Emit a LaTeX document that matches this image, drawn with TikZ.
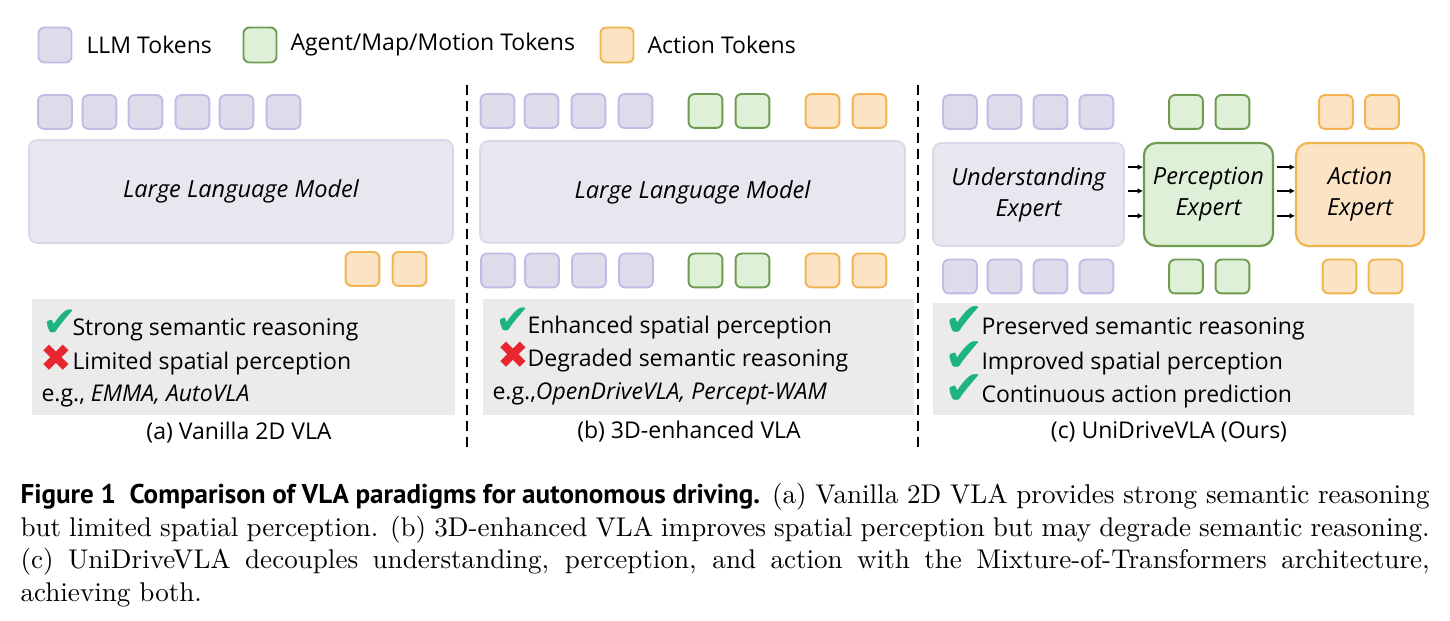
\documentclass[tikz,border=0pt]{standalone}
\usepackage{fontspec}
\newfontfamily\diafont{Open Sans}
\newfontfamily\symfont{DejaVu Sans}
\newfontfamily\capfont{PT Sans}
\usetikzlibrary{arrows.meta, positioning}

\definecolor{llmfill}{HTML}{DEDCEA}
\definecolor{llmdraw}{HTML}{C7B8E6}
\definecolor{agfill}{HTML}{DFF0D8}
\definecolor{agdraw}{HTML}{6E9B50}
\definecolor{actfill}{HTML}{FBE3C4}
\definecolor{actdraw}{HTML}{F0B450}
\definecolor{modelfill}{HTML}{E8E7F0}
\definecolor{modeldraw}{HTML}{DAD8E8}
\definecolor{infofill}{HTML}{EBEBEB}
\definecolor{okgreen}{HTML}{1DB383}
\definecolor{nored}{HTML}{E8262F}

\begin{document}
\begin{tikzpicture}[
  x=0.369pt, y=-0.369pt,
  every node/.style={font=\diafont\fontsize{8.5}{10}\selectfont},
  >=Latex,
  %% token squares
  tok/.style={draw, rounded corners=2.2pt, line width=0.7pt,
    minimum width=12.5pt, minimum height=12.5pt, inner sep=0pt},
  llmtok/.style={tok, draw=llmdraw, fill=llmfill},
  agtok/.style={tok, draw=agdraw, fill=agfill},
  acttok/.style={tok, draw=actdraw, fill=actfill},
  legtok/.style={minimum width=12.2pt, minimum height=12.9pt},
  %% model / expert blocks
  model/.style={draw=modeldraw, fill=modelfill, line width=0.6pt,
    rounded corners=3pt, inner sep=0pt, align=center,
    font=\diafont\itshape\fontsize{8.7}{11.4}\selectfont},
  expert/.style={model, line width=0.8pt, rounded corners=4.5pt,
    minimum height=38pt},
  %% text panels
  infobox/.style={fill=infofill, inner sep=0pt},
  item/.style={anchor=base west, inner sep=0pt},
  ok/.style={item, text=okgreen, font=\symfont\fontsize{15.5}{16}\selectfont},
  okbig/.style={ok, font=\symfont\fontsize{17.5}{18}\selectfont},
  no/.style={item, text=nored, font=\symfont\fontsize{14}{15}\selectfont},
  sublabel/.style={anchor=base, inner sep=0pt},
  sep/.style={line width=1.1pt, dash pattern=on 3.7pt off 2.2pt},
  arr/.style={-{Latex[length=2pt, width=2.2pt]}, line width=0.5pt,
    shorten <=1pt},
]
\useasboundingbox (0,0) rectangle (1450,621);

%% =========================================================
%% LEGEND
%% =========================================================
\node[llmtok, legtok] (leg-llm) at (55,45) {};
\node[anchor=west, inner sep=0pt] (leg-llm-t) at (86,45) {LLM Tokens};
\node[agtok, legtok] (leg-ag) at (260,45) {};
\node[anchor=west, inner sep=0pt] (leg-ag-t) at (290,45) {Agent/Map/Motion Tokens};
\node[acttok, legtok] (leg-act) at (617,45) {};
\node[anchor=west, inner sep=0pt] (leg-act-t) at (647,45) {Action Tokens};

%% =========================================================
%% (a) Vanilla 2D VLA
%% =========================================================
\node[llmtok] (a-in1) at (55,112) {};   \node[llmtok] (a-in2) at (99.5,112) {};
\node[llmtok] (a-in3) at (145.5,112) {}; \node[llmtok] (a-in4) at (192.5,112) {};
\node[llmtok] (a-in5) at (236.5,112) {}; \node[llmtok] (a-in6) at (283.5,112) {};

\node[model, minimum width=156.5pt, minimum height=38pt] (a-llm) at (241,191.5)
  {Large Language Model};

\node[acttok] (a-out1) at (362.5,269) {}; \node[acttok] (a-out2) at (409.5,269) {};

\node[infobox, minimum width=156.1pt, minimum height=42.8pt] (a-info) at (243.5,357) {};
\node[ok] (a-ok) at (42,337) {✔};
\node[item] (a-ok-t) at (72,336) {Strong semantic reasoning};
\node[no] (a-no) at (40,372) {✖};
\node[item] (a-no-t) at (72,370) {Limited spatial perception};
\node[item] (a-eg) at (41,402) {e.g., \textit{EMMA, AutoVLA}};
\node[sublabel] (a-cap) at (239,440) {(a) Vanilla 2D VLA};

\draw[sep] (467,85) -- (467,450);

%% =========================================================
%% (b) 3D-enhanced VLA
%% =========================================================
\node[llmtok] (b-in1) at (497.5,111) {}; \node[llmtok] (b-in2) at (541.5,111) {};
\node[llmtok] (b-in3) at (588.5,111) {}; \node[llmtok] (b-in4) at (635.5,111) {};
\node[agtok] (b-in5) at (705.5,111) {};  \node[agtok] (b-in6) at (752.5,111) {};
\node[acttok] (b-in7) at (822.5,111) {}; \node[acttok] (b-in8) at (869.5,111) {};

\node[model, minimum width=156.8pt, minimum height=37.6pt] (b-llm) at (692.5,192)
  {Large Language Model};

\node[llmtok] (b-out1) at (498,270.5) {}; \node[llmtok] (b-out2) at (542,270.5) {};
\node[llmtok] (b-out3) at (589,270.5) {}; \node[llmtok] (b-out4) at (636,270.5) {};
\node[agtok] (b-out5) at (705.5,270.5) {};  \node[agtok] (b-out6) at (752.5,270.5) {};
\node[acttok] (b-out7) at (822.5,270.5) {}; \node[acttok] (b-out8) at (869.5,270.5) {};

\node[infobox, minimum width=159pt, minimum height=42.8pt] (b-info) at (698.5,357) {};
\node[ok] (b-ok) at (495,335) {✔};
\node[item] (b-ok-t) at (527,334) {Enhanced spatial perception};
\node[no] (b-no) at (497,369) {✖};
\node[item] (b-no-t) at (527,367) {Degraded semantic reasoning};
\node[item] (b-eg) at (492,400) {e.g.,\textit{OpenDriveVLA, Percept-WAM}};
\node[sublabel] (b-cap) at (689,439) {(b) 3D-enhanced VLA};

\draw[sep] (918,85) -- (918,450);

%% =========================================================
%% (c) UniDriveVLA (Ours)
%% =========================================================
\node[llmtok] (c-in1) at (960,112) {};    \node[llmtok] (c-in2) at (1004.5,112) {};
\node[llmtok] (c-in3) at (1050.5,112) {}; \node[llmtok] (c-in4) at (1096.5,112) {};
\node[agtok] (c-in5) at (1186,112) {};    \node[agtok] (c-in6) at (1232.5,112) {};
\node[acttok] (c-in7) at (1336,112) {};   \node[acttok] (c-in8) at (1382,112) {};

\node[model, minimum width=70.5pt, minimum height=38pt] (c-und) at (1028.5,194.5)
  {Understanding\\Expert};
\node[expert, draw=agdraw, fill=agfill, minimum width=47.6pt] (c-per) at (1208.5,194.5)
  {Perception\\Expert};
\node[expert, draw=actdraw, fill=actfill, minimum width=47.2pt] (c-act) at (1360,194.5)
  {Action\\Expert};

\draw[arr] ([yshift=10.1pt]c-und.east) -- ([yshift=10.1pt]c-per.west);
\draw[arr] ([yshift=1.3pt]c-und.east) -- ([yshift=1.3pt]c-per.west);
\draw[arr] ([yshift=-7.9pt]c-und.east) -- ([yshift=-7.9pt]c-per.west);
\draw[arr] ([yshift=10.1pt]c-per.east) -- ([yshift=10.1pt]c-act.west);
\draw[arr] ([yshift=1.3pt]c-per.east) -- ([yshift=1.3pt]c-act.west);
\draw[arr] ([yshift=-7.9pt]c-per.east) -- ([yshift=-7.9pt]c-act.west);

\node[llmtok] (c-out1) at (960,276.5) {};    \node[llmtok] (c-out2) at (1004.5,276.5) {};
\node[llmtok] (c-out3) at (1050.5,276.5) {}; \node[llmtok] (c-out4) at (1096.5,276.5) {};
\node[agtok] (c-out5) at (1186,276.5) {};    \node[agtok] (c-out6) at (1232.5,276.5) {};
\node[acttok] (c-out7) at (1339.5,276.5) {}; \node[acttok] (c-out8) at (1385.5,276.5) {};

\node[infobox, minimum width=177.5pt, minimum height=41.3pt] (c-info) at (1173.5,359) {};
\node[okbig] (c-ok1) at (944,337) {✔};
\node[item] (c-ok1-t) at (981,335) {Preserved semantic reasoning};
\node[okbig] (c-ok2) at (944,372) {✔};
\node[item] (c-ok2-t) at (981,370) {Improved spatial perception};
\node[okbig] (c-ok3) at (944,405) {✔};
\node[item] (c-ok3-t) at (981,403) {Continuous action prediction};
\node[sublabel] (c-cap) at (1169,439) {(c) UniDriveVLA (Ours)};

%% =========================================================
%% Figure caption
%% =========================================================
\node[anchor=north west, inner sep=0pt, text width=520pt, align=justify,
  font=\rmfamily\fontsize{10}{12}\selectfont] (caption) at (20,483)
  {\hyphenpenalty=10000
  {\capfont\bfseries Figure 1\enspace Comparison of VLA paradigms for autonomous driving.}
  (a) Vanilla 2D VLA provides strong semantic reasoning\linebreak
  but limited spatial perception.
  (b) 3D-enhanced VLA improves spatial perception but may degrade semantic reasoning.\linebreak
  (c) UniDriveVLA decouples understanding, perception, and action with the
  Mixture-of-Transformers architecture,
  achieving both.};

\end{tikzpicture}
\end{document}
